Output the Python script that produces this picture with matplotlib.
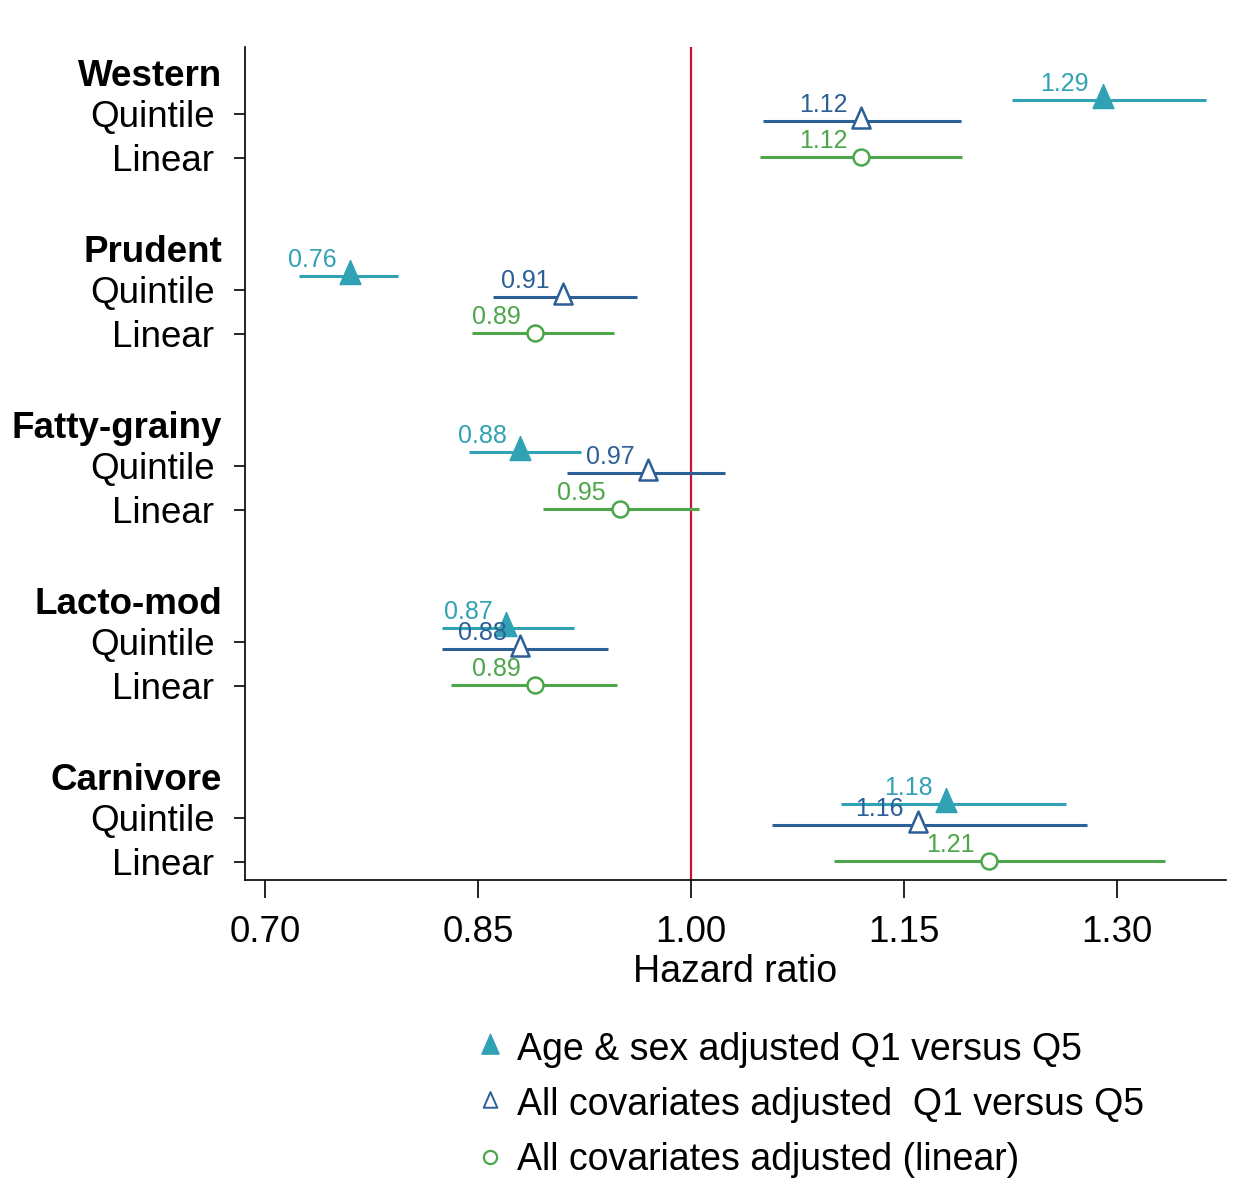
import matplotlib
matplotlib.use('Agg')
import matplotlib.pyplot as plt
from matplotlib.lines import Line2D
from matplotlib.path import Path
import numpy as np

plt.rcParams['font.family'] = ['Liberation Sans', 'DejaVu Sans']

groups = ['Western', 'Prudent', 'Fatty-grainy', 'Lacto-mod', 'Carnivore']

# age & sex adjusted, Q1 vs Q5
hr_age = [1.29, 0.76, 0.88, 0.87, 1.18]
lo_age = [1.226, 0.724, 0.844, 0.825, 1.106]
hi_age = [1.363, 0.794, 0.923, 0.918, 1.264]

# all covariates adjusted, Q1 vs Q5
hr_all = [1.12, 0.91, 0.97, 0.88, 1.16]
lo_all = [1.051, 0.861, 0.913, 0.825, 1.057]
hi_all = [1.190, 0.962, 1.024, 0.942, 1.279]

# all covariates adjusted, linear
hr_lin = [1.12, 0.89, 0.95, 0.89, 1.21]
lo_lin = [1.049, 0.846, 0.896, 0.831, 1.101]
hi_lin = [1.191, 0.946, 1.006, 0.948, 1.334]

xticks = [0.70, 0.85, 1.00, 1.15, 1.30]

c_age = '#31a2b4'
c_all = '#2c5f96'
c_lin = '#4ca64a'
c_ref = '#c8103c'

# triangle centred on its centroid (like stata)
tri = Path([(0, 15.3), (-10, -7.7), (10, -7.7), (0, 15.3)],
           [Path.MOVETO, Path.LINETO, Path.LINETO, Path.CLOSEPOLY])

fig = plt.figure(figsize=(12.54, 11.84), dpi=100)
ax = fig.add_axes([0.1954, 0.2568, 0.7823, 0.7035])

g = np.arange(len(groups))
y_title = 4 * g + 0.05
y_q = 4 * g + 1
y_l = 4 * g + 2

ax.axvline(1.0, color=c_ref, lw=1.6, zorder=1)

series = [
    (hr_age, lo_age, hi_age, y_q - 0.32, c_age, dict(markerfacecolor=c_age, markersize=23)),
    (hr_all, lo_all, hi_all, y_q + 0.17, c_all, dict(markerfacecolor='white', markersize=20, markeredgewidth=1.8)),
    (hr_lin, lo_lin, hi_lin, y_l - 0.02, c_lin, dict(markerfacecolor='white', markersize=11.5, markeredgewidth=1.8)),
]

for i, (hr, lo, hi, yy, col, mk) in enumerate(series):
    ax.hlines(yy, lo, hi, color=col, lw=2.2, zorder=2)
    marker = 'o' if i == 2 else tri
    ax.plot(hr, yy, ls='none', marker=marker, color=col, markeredgecolor=col, zorder=3, **mk)
    for x, y in zip(hr, yy):
        ax.annotate('{:.2f}'.format(x), xy=(x, y), xytext=(-10, 6.5),
                    textcoords='offset points', ha='right', va='baseline',
                    fontsize=18, color=col, zorder=4)

ax.set_xlim(0.686, 1.377)
ax.set_ylim(18.41, -0.52)

ax.set_yticks(np.concatenate([y_q, y_l]))
ax.set_yticklabels(['Quintile'] * len(groups) + ['Linear'] * len(groups), fontsize=26.5)
ax.tick_params(axis='y', length=8, width=1.2, pad=14)

for t, y in zip(groups, y_title):
    ax.text(-0.0235, y, t, transform=ax.get_yaxis_transform(), ha='right',
            va='center_baseline', fontsize=26.5, fontweight='bold')

ax.set_xticks(xticks)
ax.set_xticklabels(['{:.2f}'.format(v) for v in xticks], fontsize=26.5)
ax.tick_params(axis='x', length=13, width=1.2, pad=12)
ax.set_xlabel('Hazard ratio', fontsize=27, labelpad=3)

for s in ['top', 'right']:
    ax.spines[s].set_visible(False)
for s in ['left', 'bottom']:
    ax.spines[s].set_linewidth(1.2)

handles = [
    Line2D([], [], ls='none', marker=tri, color=c_age, markersize=19),
    Line2D([], [], ls='none', marker=tri, color=c_all, markerfacecolor='white', markersize=15, markeredgewidth=1.4),
    Line2D([], [], ls='none', marker='o', color=c_lin, markerfacecolor='white', markersize=9.5, markeredgewidth=1.6),
]
labels = ['Age & sex adjusted Q1 versus Q5',
          'All covariates adjusted  Q1 versus Q5',
          'All covariates adjusted (linear)']
fig.legend(handles, labels, loc='upper left', bbox_to_anchor=(0.3785, 0.128),
           frameon=False, prop={'size': 27},
           handlelength=0.8, handletextpad=0.33, labelspacing=0.5, borderaxespad=0,
           borderpad=0)

plt.savefig('out.png', dpi=100)
